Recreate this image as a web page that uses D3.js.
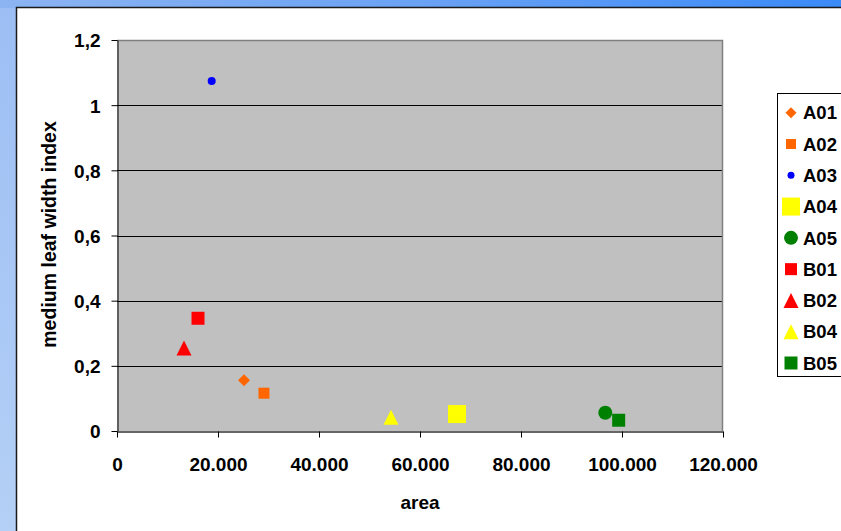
<!DOCTYPE html>
<html>
<head>
<meta charset="utf-8">
<script src="https://cdn.jsdelivr.net/npm/d3@7"></script>
<style>
  html, body { margin: 0; padding: 0; }
  body { width: 841px; height: 531px; overflow: hidden; position: relative;
    background: linear-gradient(180deg, #9cbef4 0%, #b4d0f6 100%); }
  #topbar { position: absolute; left: 0; top: 0; width: 841px; height: 8px;
    background: linear-gradient(90deg, #8cb4f2 0%, #6aa2f4 50%, #3a8af8 100%); }
  svg { position: absolute; left: 0; top: 0; }
  text { font-family: "Liberation Sans", Arial, sans-serif; font-weight: bold; fill: #000; }
</style>
</head>
<body>
<div id="topbar"></div>
<svg id="chart" width="841" height="531"></svg>
<script>
// ---- data ----
const seriesNames = ["A01", "A02", "A03", "A04", "A05", "B01", "B02", "B04", "B05"];
const areaValues  = [25150, 29100, 18750, 67330, 96690, 16040, 13270, 54260, 99340];
const indexValues = [0.156, 0.116, 1.074, 0.052, 0.056, 0.346, 0.255, 0.042, 0.033];
const xTickValues = [0, 20000, 40000, 60000, 80000, 100000, 120000];
const xTickLabels = ["0", "20.000", "40.000", "60.000", "80.000", "100.000", "120.000"];
const yTickValues = [0, 0.2, 0.4, 0.6, 0.8, 1.0, 1.2];
const yTickLabels = ["0", "0,2", "0,4", "0,6", "0,8", "1", "1,2"];
const xTitle = "area";
const yTitle = "medium leaf width index";

// ---- marker styles (not data) ----
const markerStyle = {
  A01: { shape: "diamond",  color: "#ff6600", size: 12, legendSize: 11 },
  A02: { shape: "square",   color: "#ff6600", size: 11, legendSize: 10 },
  A03: { shape: "circle",   color: "#0000ff", size: 8,  legendSize: 7 },
  A04: { shape: "square",   color: "#ffff00", size: 18, legendSize: 18 },
  A05: { shape: "circle",   color: "#008000", size: 14, legendSize: 14 },
  B01: { shape: "square",   color: "#ff0000", size: 13, legendSize: 12 },
  B02: { shape: "triangle", color: "#ff0000", size: 15, legendSize: 15 },
  B04: { shape: "triangle", color: "#ffff00", size: 15, legendSize: 15 },
  B05: { shape: "square",   color: "#008000", size: 13, legendSize: 13 }
};

function shapePath(shape, s) {
  const h = s / 2;
  switch (shape) {
    case "square": return `M${-h},${-h}H${h}V${h}H${-h}Z`;
    case "diamond": return `M0,${-h}L${h},0L0,${h}L${-h},0Z`;
    case "triangle": return `M0,${-h}L${h},${h}L${-h},${h}Z`;
    case "circle": return `M${h},0A${h},${h},0,1,1,${-h},0A${h},${h},0,1,1,${h},0Z`;
  }
}

const svg = d3.select("#chart");

// chart background (white panel)
svg.append("rect").attr("x", 16.5).attr("y", 7.5).attr("width", 900).attr("height", 600)
  .attr("fill", "#ffffff").attr("stroke", "#1a1a1a").attr("stroke-width", 1.5);

const plot = { left: 117, top: 40, right: 723, bottom: 431 };
const x = d3.scaleLinear().domain([0, 120000]).range([plot.left, plot.right]);
const y = d3.scaleLinear().domain([0, 1.2]).range([plot.bottom, plot.top]);

// plot area
svg.append("rect").attr("x", plot.left).attr("y", plot.top)
  .attr("width", plot.right - plot.left).attr("height", plot.bottom - plot.top)
  .attr("fill", "#c0c0c0");

// gridlines
svg.append("g").selectAll("line").data(yTickValues.filter(v => v > 0 && v < 1.2)).join("line")
  .attr("x1", plot.left).attr("x2", plot.right)
  .attr("y1", d => Math.round(y(d)) + 0.5).attr("y2", d => Math.round(y(d)) + 0.5)
  .attr("stroke", "#000").attr("stroke-width", 1);

// plot border top/right (gray)
svg.append("path")
  .attr("d", `M${plot.left},${plot.top + 0.5}H${plot.right - 0.5}V${plot.bottom}`)
  .attr("fill", "none").attr("stroke", "#808080").attr("stroke-width", 1.5);

// axes
const yAxis = d3.axisLeft(y).tickValues(yTickValues)
  .tickFormat((d, i) => yTickLabels[i]).tickSize(6).tickPadding(11).tickSizeOuter(0);
const gy = svg.append("g").attr("transform", `translate(${plot.left + 0.5},0)`).call(yAxis);
gy.select(".domain").attr("stroke", "#000");
gy.selectAll(".tick line").attr("stroke", "#000");
gy.selectAll(".tick text").style("font-size", "19px").attr("dy", "0.36em");

const xAxis = d3.axisBottom(x).tickValues(xTickValues)
  .tickFormat((d, i) => xTickLabels[i]).tickSize(6).tickPadding(20).tickSizeOuter(0);
const gx = svg.append("g").attr("transform", `translate(0,${plot.bottom + 0.5})`).call(xAxis);
gx.select(".domain").attr("stroke", "#333").attr("stroke-width", 1.5);
gx.selectAll(".tick line").attr("stroke", "#000");
gx.selectAll(".tick text").style("font-size", "19px");

// axis titles
svg.append("text").attr("x", (plot.left + plot.right) / 2).attr("y", 509)
  .attr("text-anchor", "middle").style("font-size", "19px").text(xTitle);
svg.append("text")
  .attr("transform", `translate(56,${(plot.top + plot.bottom) / 2 - 1}) rotate(-90)`)
  .attr("text-anchor", "middle").style("font-size", "19.5px").text(yTitle);

// points
const points = seriesNames.map((n, i) => ({ name: n, x: areaValues[i], y: indexValues[i] }));
svg.append("g").selectAll("path").data(points).join("path")
  .attr("transform", d => `translate(${x(d.x)},${y(d.y)})`)
  .attr("d", d => shapePath(markerStyle[d.name].shape, markerStyle[d.name].size))
  .attr("fill", d => markerStyle[d.name].color);

// legend
const legend = svg.append("g");
legend.append("rect").attr("x", 777.5).attr("y", 93.5).attr("width", 100).attr("height", 283)
  .attr("fill", "#fff").attr("stroke", "#000").attr("stroke-width", 1);
const ly = d3.scalePoint().domain(seriesNames).range([112.7, 363]);
const li = legend.selectAll("g.item").data(seriesNames).join("g")
  .attr("class", "item").attr("transform", d => `translate(0,${ly(d)})`);
li.append("path").attr("transform", "translate(791,0)")
  .attr("d", d => shapePath(markerStyle[d].shape, markerStyle[d].legendSize))
  .attr("fill", d => markerStyle[d].color);
li.append("text").attr("x", 803).attr("dy", "0.36em").style("font-size", "18.5px").text(d => d);
</script>
</body>
</html>
